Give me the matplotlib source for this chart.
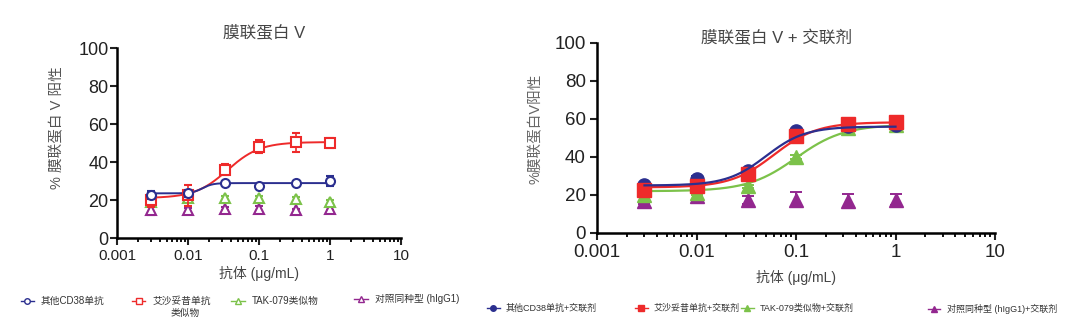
import numpy as np
import matplotlib as mpl
mpl.use('Agg')
import matplotlib.pyplot as plt
from matplotlib.lines import Line2D

plt.rcParams['font.family'] = ['Liberation Sans', 'Noto Sans CJK SC', 'DejaVu Sans']

# concentrations (ug/mL)
conc = [0.003, 0.01, 0.033, 0.1, 0.33, 1]

# left panel: annexin V
l_blue = [22.5, 23.5, 29.0, 27.5, 29.0, 30.0]
l_blue_err = [2.0, 2.0, 1.0, 1.0, 1.0, 2.5]
l_red = [20.0, 22.5, 36.0, 48.0, 50.5, 50.0]
l_red_err = [3.5, 5.5, 3.0, 3.5, 5.0, 2.5]
l_green = [19.0, 21.0, 21.0, 21.0, 20.5, 19.0]
l_green_err = [1.0, 1.5, 1.0, 1.0, 1.0, 1.0]
l_purple = [15.0, 14.5, 15.5, 15.5, 14.5, 15.5]
l_purple_err = [3.0, 1.5, 1.0, 1.5, 1.0, 1.0]

# right panel: annexin V + crosslinker
r_blue = [25.0, 28.5, 32.5, 53.5, 56.5, 57.0]
r_blue_err = [1.0, 1.5, 1.0, 1.0, 1.0, 1.0]
r_red = [22.5, 24.5, 31.0, 51.0, 57.5, 58.5]
r_red_err = [1.5, 1.5, 1.0, 1.0, 1.0, 1.0]
r_green = [20.0, 21.0, 24.5, 40.0, 55.0, 57.0]
r_green_err = [1.0, 1.0, 1.0, 1.0, 1.0, 1.0]
r_purple = [17.0, 19.5, 17.5, 17.5, 17.0, 17.5]
r_purple_err = [2.0, 1.5, 2.0, 4.0, 3.5, 3.0]

# 4PL fit parameters: bottom, top, ec50, hill
l_blue_fit = [23.5, 28.9, 0.016, 6.0]
l_red_fit = [21.0, 50.5, 0.036, 1.9]
r_blue_fit = [25.0, 56.0, 0.050, 2.2]
r_red_fit = [24.0, 58.3, 0.060, 2.0]
r_green_fit = [22.0, 57.0, 0.100, 1.8]

labels_l = ['其他CD38单抗', '艾沙妥昔单抗', 'TAK-079类似物', '对照同种型 (hIgG1)']
labels_r = ['其他CD38单抗+交联剂', '艾沙妥昔单抗+交联剂', 'TAK-079类似物+交联剂', '对照同种型 (hIgG1)+交联剂']

BLUE = '#2b2f8f'
RED = '#ee2a2a'
GREEN = '#7cc24a'
PURPLE = '#93278f'


def fourpl(x, p):
    b, t, ec, h = p
    return b + (t - b) / (1 + (ec / x) ** h)


def style_axes(ax, fsx, fsy, pad):
    ax.set_xscale('log')
    ax.set_xlim(0.001, 10)
    ax.set_ylim(0, 100)
    ax.set_xticks([0.001, 0.01, 0.1, 1, 10])
    ax.set_xticklabels(['0.001', '0.01', '0.1', '1', '10'])
    ax.set_yticks([0, 20, 40, 60, 80, 100])
    for s in ['top', 'right']:
        ax.spines[s].set_visible(False)
    for s in ['left', 'bottom']:
        ax.spines[s].set_linewidth(1.8)
    ax.tick_params(which='major', length=5, width=1.5, colors='#222222', pad=3)
    ax.tick_params(axis='x', labelsize=fsx)
    ax.tick_params(axis='y', labelsize=fsy, pad=pad)
    ax.tick_params(which='minor', length=3, width=1.3)
    ax.patch.set_alpha(0)


fig = plt.figure(figsize=(10.8, 3.32), dpi=100)
axl = fig.add_axes([0.1083, 0.2831, 0.263, 0.5723])
axr = fig.add_axes([0.5528, 0.2982, 0.3685, 0.5723])

xs = np.logspace(np.log10(0.003), 0, 200)

# left panel
axl.plot(xs, fourpl(xs, l_red_fit), color=RED, lw=1.4, zorder=2)
axl.plot(xs, fourpl(xs, l_blue_fit), color=BLUE, lw=1.4, zorder=2)
series_l = [(l_blue, l_blue_err, BLUE, 'o', 6), (l_red, l_red_err, RED, 's', 5),
            (l_green, l_green_err, GREEN, '^', 4), (l_purple, l_purple_err, PURPLE, '^', 3)]
for vals, err, c, m, order in series_l:
    axl.errorbar(conc, vals, yerr=err, fmt=m, color=c, mfc='white', mec=c, mew=1.5,
                 ms=6.5, capsize=3, elinewidth=1.2, capthick=1.2, zorder=order)
style_axes(axl, 11, 13, 1)
axl.text(0.518, 1.084, '膜联蛋白 V', transform=axl.transAxes, ha='center', va='center',
         fontsize=12, color='#444444')
axl.set_ylabel('% 膜联蛋白 V 阳性', fontsize=10.5, color='#555555')
axl.yaxis.set_label_coords(-0.187, 0.58)
axl.set_xlabel('抗体 (μg/mL)', fontsize=10, color='#444444', labelpad=2)

# right panel
axr.plot(xs, fourpl(xs, r_green_fit), color=GREEN, lw=1.6, zorder=2)
axr.plot(xs, fourpl(xs, r_red_fit), color=RED, lw=1.6, zorder=2)
axr.plot(xs, fourpl(xs, r_blue_fit), color=BLUE, lw=1.6, zorder=7)
series_r = [(r_purple, r_purple_err, PURPLE, '^', 3), (r_green, r_green_err, GREEN, '^', 4),
            (r_blue, r_blue_err, BLUE, 'o', 5), (r_red, r_red_err, RED, 's', 6)]
for vals, err, c, m, order in series_r:
    axr.errorbar(conc, vals, yerr=err, fmt=m, color=c, mec=c, ms=9.5,
                 capsize=4, elinewidth=1.4, capthick=1.4, zorder=order)
style_axes(axr, 13.5, 13.5, 3)
axr.text(0.45, 1.026, '膜联蛋白 V + 交联剂', transform=axr.transAxes, ha='center', va='center',
         fontsize=12, color='#444444')
axr.set_ylabel('%膜联蛋白V阳性', fontsize=10.5, color='#666666')
axr.yaxis.set_label_coords(-0.136, 0.55)
axr.set_xlabel('抗体 (μg/mL)', fontsize=10, color='#444444', labelpad=6)

# legends
colors = [BLUE, RED, GREEN, PURPLE]
marks = ['o', 's', '^', '^']
pos_l = [(0.019, 0.093), (0.122, 0.093), (0.214, 0.093), (0.328, 0.099)]
for lab, c, m, (x, y) in zip(labels_l, colors, marks, pos_l):
    h = Line2D([], [], color=c, marker=m, mfc='white', mec=c, ms=4, lw=1.0)
    lg = fig.legend(handles=[h], labels=[lab], loc='center left', bbox_to_anchor=(x, y),
                    frameon=False, fontsize=7, handlelength=1.4, handletextpad=0.7,
                    borderpad=0, borderaxespad=0)
    for t in lg.get_texts():
        t.set_color('#333333')
fig.text(0.1715, 0.058, '类似物', ha='center', va='center', fontsize=7, color='#333333')

pos_r = [(0.451, 0.070), (0.588, 0.070), (0.686, 0.070), (0.859, 0.070)]
for lab, c, m, (x, y) in zip(labels_r, colors, marks, pos_r):
    h = Line2D([], [], color=c, marker=m, mec=c, ms=4, lw=1.0)
    lg = fig.legend(handles=[h], labels=[lab], loc='center left', bbox_to_anchor=(x, y),
                    frameon=False, fontsize=6.5, handlelength=1.4, handletextpad=0.7,
                    borderpad=0, borderaxespad=0)
    for t in lg.get_texts():
        t.set_color('#333333')

fig.savefig('out.png', dpi=100)
